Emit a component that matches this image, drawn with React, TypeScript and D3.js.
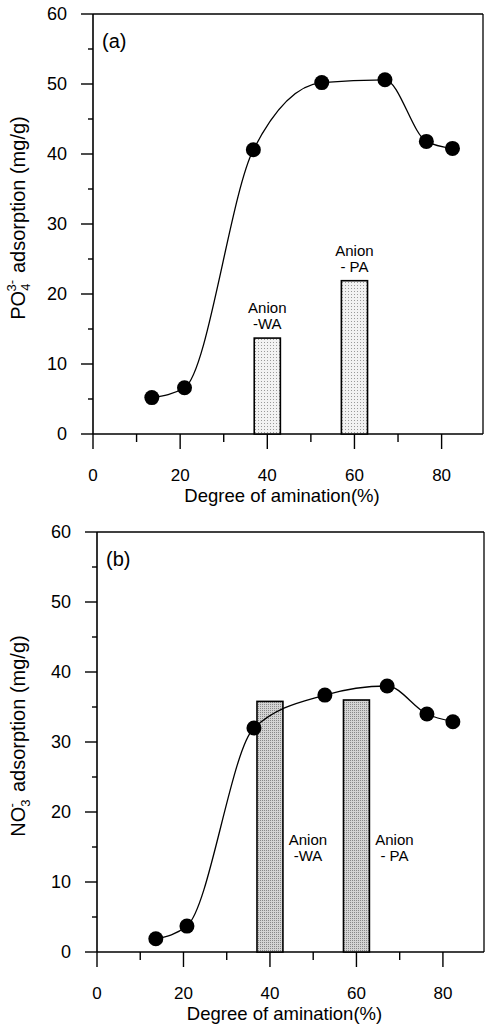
import React from "react";
import * as d3 from "d3";

// degree of amination (%) for the synthesized resins
const aminationA = [13.5, 21, 36.8, 52.5, 67, 76.5, 82.5];
const po4Adsorption = [5.2, 6.6, 40.6, 50.2, 50.6, 41.8, 40.8];

const aminationB = [13.6, 20.8, 36.3, 52.7, 67.1, 76.3, 82.3];
const no3Adsorption = [1.9, 3.7, 32, 36.7, 38, 34, 32.9];

// commercial resins (bars)
const resinX = [40, 60];
const resinLabels = [
  ["Anion", "-WA"],
  ["Anion", "- PA"],
];
const po4Resin = [13.7, 21.9];
const no3Resin = [35.8, 36];

const xMajor = [0, 20, 40, 60, 80];
const xMinor = [10, 30, 50, 70];
const yMajor = [0, 10, 20, 30, 40, 50, 60];
const yMinor = [5, 15, 25, 35, 45, 55];

const FONT = "'Liberation Sans', Arial, sans-serif";

type PanelProps = {
  tag: string;
  x0: number;
  x1: number;
  top: number;
  bottom: number;
  xs: number[];
  ys: number[];
  bars: number[];
  barFill: string;
  labelPos: "above" | "right";
  ion: [string, string, string];
  ionGap: number;
};

function Panel({ tag, x0, x1, top, bottom, xs, ys, bars, barFill, labelPos, ion, ionGap }: PanelProps) {
  const x = d3.scaleLinear().domain([0, 89.5]).range([x0, x1]);
  const y = d3.scaleLinear().domain([0, 60]).range([bottom, top]);
  const line = d3
    .line<number>()
    .x((d, i) => x(xs[i]))
    .y((d) => y(d))
    .curve(d3.curveMonotoneX);
  const barW = 6;
  const midY = (top + bottom) / 2;

  return (
    <g>
      {/* frame */}
      <line x1={x0} x2={x0} y1={top} y2={bottom} stroke="#000" strokeWidth={1.6} />
      <line x1={x0} x2={x1} y1={bottom} y2={bottom} stroke="#000" strokeWidth={1.6} />
      <line x1={x0} x2={x1} y1={top} y2={top} stroke="#000" strokeWidth={1.3} />
      <line x1={x1} x2={x1} y1={top} y2={bottom} stroke="#000" strokeWidth={1.3} />

      {yMajor.map((v) => (
        <g key={"ym" + v}>
          <line x1={x0 - 12} x2={x0} y1={y(v)} y2={y(v)} stroke="#000" strokeWidth={1.4} />
          <text x={x0 - 26} y={y(v) + 6} textAnchor="end" fontSize={18}>
            {v}
          </text>
        </g>
      ))}
      {yMinor.map((v) => (
        <line key={"yn" + v} x1={x0 - 5} x2={x0} y1={y(v)} y2={y(v)} stroke="#000" strokeWidth={1.4} />
      ))}
      {xMajor.map((v) => (
        <g key={"xm" + v}>
          <line x1={x(v)} x2={x(v)} y1={bottom} y2={bottom + 15} stroke="#000" strokeWidth={1.4} />
          <text x={x(v)} y={bottom + 47} textAnchor="middle" fontSize={17}>
            {v}
          </text>
        </g>
      ))}
      {xMinor.map((v) => (
        <line key={"xn" + v} x1={x(v)} x2={x(v)} y1={bottom} y2={bottom + 8} stroke="#000" strokeWidth={1.4} />
      ))}

      <text x={(x0 + x1) / 2 - 6} y={bottom + 68} textAnchor="middle" fontSize={18.5}>
        Degree of amination(%)
      </text>

      <text transform={`translate(25,${midY - 6}) rotate(-90)`} textAnchor="middle" fontSize={20}>
        {ion[0]}
        <tspan fontSize={13} dy={5}>
          {ion[1]}
        </tspan>
        <tspan fontSize={13} dx={-8} dy={-14}>
          {ion[2]}
        </tspan>
        <tspan dx={ionGap} dy={9}>
          adsorption (mg/g)
        </tspan>
      </text>

      <text x={x0 + 9} y={top + 34} fontSize={20}>
        {tag}
      </text>

      {bars.map((v, i) => (
        <rect
          key={"b" + i}
          x={x(resinX[i] - barW / 2)}
          y={y(v)}
          width={x(resinX[i] + barW / 2) - x(resinX[i] - barW / 2)}
          height={y(0) - y(v)}
          fill={barFill}
          stroke="#000"
          strokeWidth={1.6}
        />
      ))}
      {bars.map((v, i) => {
        const cx = labelPos === "above" ? x(resinX[i]) : x(resinX[i]) + 38;
        const by = labelPos === "above" ? y(v) - 25 : y(15.3);
        return (
          <text key={"l" + i} x={cx} y={by} textAnchor="middle" fontSize={15}>
            <tspan x={cx}>{resinLabels[i][0]}</tspan>
            <tspan x={cx} dy={16}>
              {resinLabels[i][1]}
            </tspan>
          </text>
        );
      })}

      <path d={line(ys) ?? ""} fill="none" stroke="#000" strokeWidth={1.3} />
      {ys.map((v, i) => (
        <circle key={"p" + i} cx={x(xs[i])} cy={y(v)} r={7.5} fill="#000" />
      ))}
    </g>
  );
}

export default function App() {
  return (
    <svg
      width={485}
      height={1027}
      style={{ position: "absolute", left: 0, top: 0, background: "#fff" }}
      fontFamily={FONT}
    >
      <defs>
        <pattern id="dotsLight" width={3} height={3} patternUnits="userSpaceOnUse">
          <rect width={3} height={3} fill="#f2f2f2" />
          <rect width={1} height={1} fill="#999" />
        </pattern>
        <pattern id="dotsDark" width={2} height={2} patternUnits="userSpaceOnUse">
          <rect width={2} height={2} fill="#d4d4d4" />
          <rect width={1} height={1} fill="#888" />
        </pattern>
      </defs>
      <rect width={485} height={1027} fill="#fff" />
      <Panel
        tag="(a)"
        x0={93}
        x1={483}
        top={14}
        bottom={434}
        xs={aminationA}
        ys={po4Adsorption}
        bars={po4Resin}
        barFill="url(#dotsLight)"
        labelPos="above"
        ion={["PO", "4", "3-"]}
        ionGap={7}
      />
      <Panel
        tag="(b)"
        x0={97}
        x1={484}
        top={532}
        bottom={952}
        xs={aminationB}
        ys={no3Adsorption}
        bars={no3Resin}
        barFill="url(#dotsDark)"
        labelPos="right"
        ion={["NO", "3", "-"]}
        ionGap={11}
      />
    </svg>
  );
}
